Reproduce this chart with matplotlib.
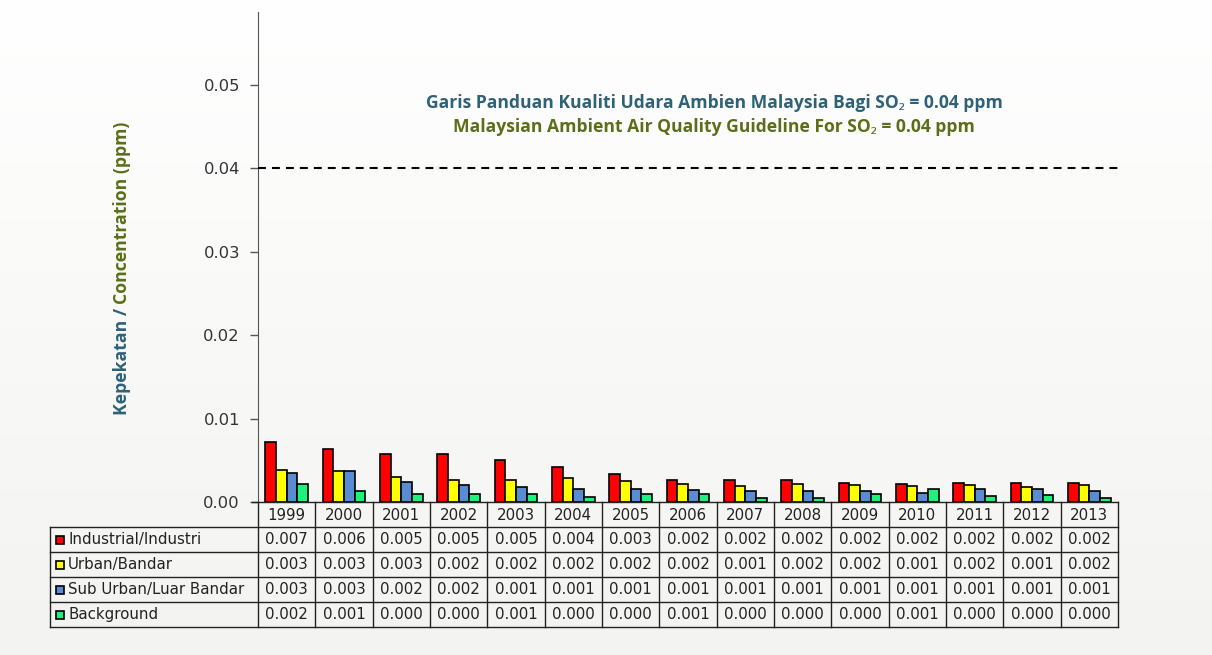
import numpy as np
import matplotlib.pyplot as plt
from matplotlib.lines import Line2D
from matplotlib.patches import Rectangle

# annual SO2 averages (ppm)
years = ['1999', '2000', '2001', '2002', '2003', '2004', '2005', '2006',
         '2007', '2008', '2009', '2010', '2011', '2012', '2013']
industrial = [0.0072, 0.0064, 0.0057, 0.0058, 0.0050, 0.0042, 0.0033, 0.0026,
              0.0026, 0.0026, 0.0023, 0.0022, 0.0023, 0.0023, 0.0023]
urban = [0.0038, 0.0037, 0.0030, 0.0026, 0.0026, 0.0029, 0.0025, 0.0022,
         0.0019, 0.0021, 0.0020, 0.0019, 0.0020, 0.0018, 0.0020]
suburban = [0.0035, 0.0037, 0.0024, 0.0020, 0.0018, 0.0016, 0.0016, 0.0014,
            0.0013, 0.0013, 0.0013, 0.0011, 0.0015, 0.0016, 0.0013]
background = [0.0021, 0.0013, 0.0009, 0.0009, 0.0010, 0.0006, 0.0009, 0.0010,
              0.0005, 0.0005, 0.0009, 0.0015, 0.0007, 0.0008, 0.0005]

# values as printed in the data table
industrial_tab = [0.007, 0.006, 0.005, 0.005, 0.005, 0.004, 0.003, 0.002,
                  0.002, 0.002, 0.002, 0.002, 0.002, 0.002, 0.002]
urban_tab = [0.003, 0.003, 0.003, 0.002, 0.002, 0.002, 0.002, 0.002,
             0.001, 0.002, 0.002, 0.001, 0.002, 0.001, 0.002]
suburban_tab = [0.003, 0.003, 0.002, 0.002, 0.001, 0.001, 0.001, 0.001,
                0.001, 0.001, 0.001, 0.001, 0.001, 0.001, 0.001]
background_tab = [0.002, 0.001, 0.000, 0.000, 0.001, 0.000, 0.000, 0.001,
                  0.000, 0.000, 0.000, 0.001, 0.000, 0.000, 0.000]

names = ['Industrial/Industri', 'Urban/Bandar', 'Sub Urban/Luar Bandar', 'Background']
colors = ['#ff0000', '#ffff00', '#5a8cd2', '#22f07e']
guideline = 0.04

teal = '#2e6279'
olive = '#5a6f18'

W, H = 1212, 655
fig = plt.figure(figsize=(W / 100, H / 100), dpi=100)

# soft vertical gradient behind everything
bg = fig.add_axes([0, 0, 1, 1], zorder=-10)
g = np.linspace(0, 1, 256)[:, None]
top = np.array([1.0, 1.0, 1.0])
bot = np.array([243, 243, 241]) / 255
grad = top[None, None, :] * (1 - g[..., None]) + bot[None, None, :] * g[..., None]
bg.imshow(np.repeat(grad, 2, axis=1), aspect='auto', extent=[0, 1, 0, 1])
bg.axis('off')

# main axes in pixel layout
ax_l, ax_r, ax_b, ax_t = 258, 1118, 502, 12
ax = fig.add_axes([ax_l / W, 1 - ax_b / H, (ax_r - ax_l) / W, (ax_b - ax_t) / H])
ax.patch.set_alpha(0)

x = np.arange(len(years))
w = 0.185
for i, (vals, c) in enumerate(zip([industrial, urban, suburban, background], colors)):
    ax.bar(x + (i - 1.5) * w, vals, w, color=c, edgecolor='black', lw=1.2, zorder=3)

ax.set_xlim(-0.5, len(years) - 0.5)
ax.set_ylim(0, 0.05 * (ax_b - ax_t) / (ax_b - 85))
ax.set_xticks([])
ax.set_yticks([0, 0.01, 0.02, 0.03, 0.04, 0.05])
ax.set_yticklabels(['%.2f' % v for v in ax.get_yticks()])
for s in ['top', 'right', 'bottom']:
    ax.spines[s].set_visible(False)
ax.spines['left'].set_color('#555555')
ax.tick_params(axis='y', length=6, width=1, color='#555555', labelsize=11.8,
               labelcolor='#333333', pad=7)

# guideline
ax.plot([-0.5, 14.57], [guideline, guideline], color='black', lw=1.5,
        dashes=(3.8, 2.9), clip_on=False, zorder=4)

title_font = dict(family=['Open Sans', 'Noto Sans', 'DejaVu Sans'], weight='bold',
                  fontsize=12.6, ha='center', va='center')
fig.text(714 / W, 1 - 103 / H, 'Garis Panduan Kualiti Udara Ambien Malaysia Bagi SO\u2082 = 0.04 ppm',
         color=teal, **title_font)
fig.text(714 / W, 1 - 127 / H, 'Malaysian Ambient Air Quality Guideline For SO\u2082 = 0.04 ppm',
         color=olive, **title_font)

# two-colour y label
lab_font = dict(family=['Open Sans', 'Noto Sans'], weight='bold', fontsize=12.7, rotation=90,
                ha='center', va='bottom')
t1 = fig.text(122 / W, 1 - 415 / H, 'Kepekatan /', color=teal, **lab_font)
fig.canvas.draw()
bb = t1.get_window_extent().transformed(fig.transFigure.inverted())
fig.text(122 / W, bb.y1 + 4 / H, 'Concentration (ppm)', color=olive, **lab_font)

# data table under the axes (axes-fraction coordinates)
def fx(px):
    return (px - ax_l) / (ax_r - ax_l)


def fy(py):
    return (ax_b - py) / (ax_b - ax_t)


line_kw = dict(color='#222222', lw=1, transform=ax.transAxes, clip_on=False, zorder=5)
txt_kw = dict(family='DejaVu Sans', fontsize=10.8, color='#222222',
              transform=ax.transAxes, clip_on=False, va='center')

rows = [ax_b, 527, 552, 577, 602, 627]
col_w = (ax_r - ax_l) / len(years)
tab_l = 50

# header row (years)
ax.add_line(Line2D([fx(ax_l - 6), 1], [0, 0], **line_kw))
for k in range(len(years) + 1):
    xx = fx(ax_l + k * col_w)
    ax.add_line(Line2D([xx, xx], [fy(rows[0]), fy(rows[-1])], **line_kw))
for k, yr in enumerate(years):
    ax.text(fx(ax_l + (k + 0.5) * col_w), fy((rows[0] + rows[1]) / 2 + 1), yr,
            ha='center', **txt_kw)

# body rows
for r in range(1, len(rows)):
    ax.add_line(Line2D([fx(tab_l), 1], [fy(rows[r]), fy(rows[r])], **line_kw))
ax.add_line(Line2D([fx(tab_l), fx(tab_l)], [fy(rows[1]), fy(rows[-1])], **line_kw))

for r, (name, c, vals) in enumerate(zip(names, colors,
                                        [industrial_tab, urban_tab, suburban_tab, background_tab])):
    yc = (rows[r + 1] + rows[r + 2]) / 2
    ax.add_patch(Rectangle((fx(56), fy(yc + 4)), 8 / (ax_r - ax_l), 8 / (ax_b - ax_t),
                           facecolor=c, edgecolor='black', lw=1.2,
                           transform=ax.transAxes, clip_on=False, zorder=6))
    ax.text(fx(68), fy(yc), name, ha='left', **txt_kw)
    for k, v in enumerate(vals):
        ax.text(fx(ax_l + (k + 0.5) * col_w), fy(yc), '%.3f' % v, ha='center', **txt_kw)

fig.savefig('out.png', dpi=100)
